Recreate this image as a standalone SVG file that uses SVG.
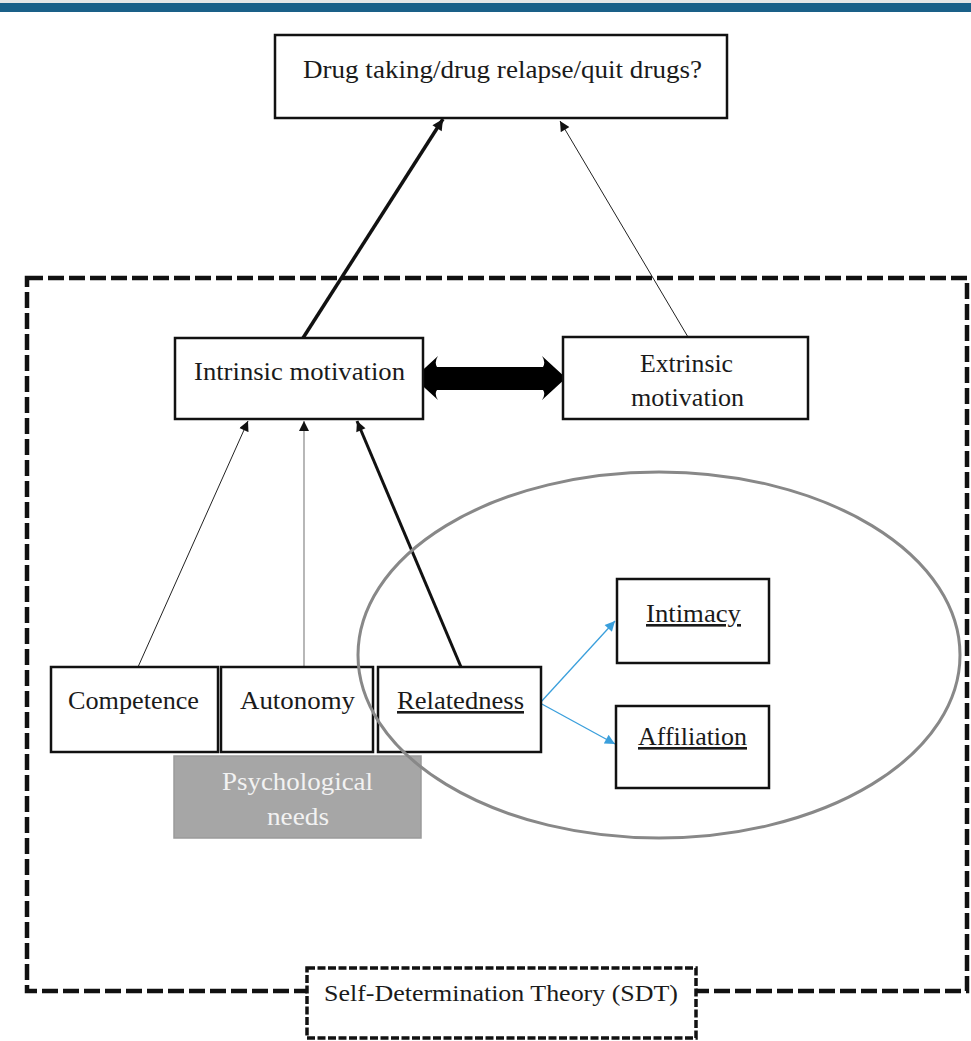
<svg xmlns="http://www.w3.org/2000/svg" width="971" height="1041" viewBox="0 0 971 1041">
  <style>
    .box { fill: #ffffff; stroke: #111111; stroke-width: 2.5; }
    .lbl { font-family: "Liberation Serif", "DejaVu Serif", serif; font-size: 26px; fill: #1a1a1a; text-anchor: middle; }
    .ul { text-decoration: underline; }
    .thin { stroke: #222222; stroke-width: 1; fill: none; }
    .thick { stroke: #111111; stroke-width: 3.5; fill: none; }
    .blue { stroke: #3a9fdc; stroke-width: 1.3; fill: none; }
  </style>
  <defs>
    <marker id="headThin" markerUnits="userSpaceOnUse" viewBox="0 0 10 10" refX="10" refY="5" markerWidth="11" markerHeight="10" orient="auto">
      <path d="M0,0 L10,5 L0,10 Z" fill="#111111"/>
    </marker>
    <marker id="headThick" markerUnits="userSpaceOnUse" viewBox="0 0 10 10" refX="10" refY="5" markerWidth="13" markerHeight="11" orient="auto">
      <path d="M0,0 L10,5 L0,10 Z" fill="#111111"/>
    </marker>
    <marker id="headBlue" markerUnits="userSpaceOnUse" viewBox="0 0 10 10" refX="10" refY="5" markerWidth="12" markerHeight="10" orient="auto">
      <path d="M0,0 L10,5 L0,10 Z" fill="#3a9fdc"/>
    </marker>
  </defs>

  <!-- page header band -->
  <rect x="0" y="0" width="971" height="3" fill="#e6e6e6"/>
  <rect x="0" y="3" width="971" height="9" fill="#1a6088"/>

  <!-- SDT frame -->
  <g id="sdt-frame">
    <rect x="27" y="278" width="940" height="713" fill="none" stroke="#111111" stroke-width="4.5" stroke-dasharray="16 5"/>
  </g>

  <!-- connectors -->
  <g id="connectors">
    <line class="thick" x1="303" y1="338" x2="443" y2="119" marker-end="url(#headThick)"/>
    <line class="thin" x1="688" y1="337" x2="560" y2="121" marker-end="url(#headThin)"/>
    <path id="intrinsic-extrinsic" d="M414,378 L438,356 Q434,362 437,367 L543,367 Q546,362 542,356 L566,378 L542,400 Q546,394 543,390 L437,390 Q434,394 438,400 Z" fill="#000000"/>
    <line class="thin" x1="138" y1="667" x2="248" y2="421" marker-end="url(#headThin)"/>
    <line x1="304" y1="667" x2="304" y2="421" stroke="#888888" stroke-width="1.2" marker-end="url(#headThin)"/>
    <line x1="461" y1="667" x2="357" y2="421" stroke="#111111" stroke-width="3" marker-end="url(#headThin)"/>
    <line class="blue" x1="540" y1="703" x2="615" y2="621" marker-end="url(#headBlue)"/>
    <line class="blue" x1="540" y1="703" x2="615" y2="744" marker-end="url(#headBlue)"/>
  </g>

  <g id="outcome">
    <rect class="box" x="275" y="35" width="452" height="83"/>
    <text class="lbl" x="502.5" y="78" textLength="399" lengthAdjust="spacingAndGlyphs">Drug taking/drug relapse/quit drugs?</text>
  </g>

  <g id="intrinsic">
    <rect class="box" x="175" y="338" width="248" height="81"/>
    <text class="lbl" x="299.5" y="380" textLength="211" lengthAdjust="spacingAndGlyphs">Intrinsic motivation</text>
  </g>

  <g id="extrinsic">
    <rect class="box" x="563" y="337" width="245" height="82"/>
    <text class="lbl" x="686.5" y="372" textLength="93" lengthAdjust="spacingAndGlyphs">Extrinsic</text>
    <text class="lbl" x="687.5" y="406" textLength="113" lengthAdjust="spacingAndGlyphs">motivation</text>
  </g>

  <g id="competence">
    <rect class="box" x="51" y="667" width="167" height="85"/>
    <text class="lbl" x="133.5" y="709" textLength="131" lengthAdjust="spacingAndGlyphs">Competence</text>
  </g>

  <g id="autonomy">
    <rect class="box" x="221" y="667" width="152" height="85"/>
    <text class="lbl" x="297.5" y="709" textLength="115" lengthAdjust="spacingAndGlyphs">Autonomy</text>
  </g>

  <g id="relatedness">
    <rect class="box" x="378" y="667" width="163" height="85"/>
    <text class="lbl ul" x="460.5" y="709" textLength="127" lengthAdjust="spacingAndGlyphs">Relatedness</text>
  </g>

  <g id="psychological-needs">
    <rect x="174" y="756" width="247" height="82" fill="#a6a6a6" stroke="#9a9a9a" stroke-width="1.5"/>
    <text class="lbl" x="297.5" y="790" style="fill:#f2f2f2" textLength="151" lengthAdjust="spacingAndGlyphs">Psychological</text>
    <text class="lbl" x="298" y="825" style="fill:#f2f2f2" textLength="62" lengthAdjust="spacingAndGlyphs">needs</text>
  </g>

  <g id="intimacy">
    <rect class="box" x="617" y="579" width="152" height="84"/>
    <text class="lbl ul" x="693.5" y="622" textLength="95" lengthAdjust="spacingAndGlyphs">Intimacy</text>
  </g>

  <g id="affiliation">
    <rect class="box" x="616" y="706" width="153" height="82"/>
    <text class="lbl ul" x="692.5" y="745" textLength="109" lengthAdjust="spacingAndGlyphs">Affiliation</text>
  </g>

  <!-- relatedness grouping ring -->
  <g id="relatedness-ring">
    <ellipse cx="659" cy="655" rx="301" ry="183" fill="none" stroke="#888888" stroke-width="3"/>
  </g>

  <g id="sdt-label">
    <rect x="307" y="968" width="389" height="70" fill="#ffffff" stroke="#111111" stroke-width="3.5" stroke-dasharray="8 2.5"/>
    <text class="lbl" x="501" y="1001" style="font-size:24px" textLength="354" lengthAdjust="spacingAndGlyphs">Self-Determination Theory (SDT)</text>
  </g>
</svg>
